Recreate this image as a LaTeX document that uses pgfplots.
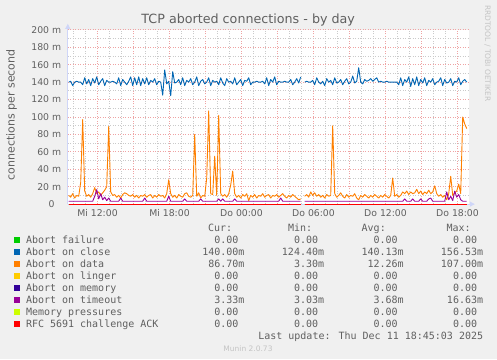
\documentclass[border=0pt]{standalone}
\usepackage{fontspec}
\setmainfont{DejaVu Sans}
\newfontfamily\monof{DejaVu Sans Mono}
\usepackage{pgfplots}
\pgfplotsset{compat=1.18}
\usetikzlibrary{arrows.meta}
\definecolor{bgc}{HTML}{F0F0F0}
\definecolor{fontc}{HTML}{606060}
\definecolor{wmc}{HTML}{C4C4C4}
\definecolor{axc}{HTML}{CFD6F8}
\definecolor{mgrid}{HTML}{EFA3A3}
\definecolor{ngrid}{HTML}{CACACA}
\definecolor{cfail}{HTML}{00CC00}
\definecolor{cclose}{HTML}{0066B3}
\definecolor{cdata}{HTML}{FF8000}
\definecolor{clinger}{HTML}{FFCC00}
\definecolor{cmem}{HTML}{330099}
\definecolor{ctime}{HTML}{990099}
\definecolor{cpress}{HTML}{CCFF00}
\definecolor{crfc}{HTML}{FF0000}
\begin{document}
\begin{tikzpicture}[x=1pt,y=1pt]
\useasboundingbox (0,0) rectangle (497,359);
\fill[bgc] (0,0) rectangle (497,359);
\begin{axis}[
  at={(56.5,177.7)}, anchor=south west, scale only axis,
  width=401pt, height=174.3pt,
  xmin=9.525, xmax=42.94, ymin=0, ymax=200,
  clip=false, unbounded coords=jump, no markers,
  axis background/.style={fill=white},
  axis x line=bottom, axis y line=left,
  axis line style={draw=axc, line width=1pt, -{Triangle[length=5pt,width=5pt]}, shorten >=-6pt},
  major tick length=0pt, minor tick length=0pt,
  xtick={12,15,...,42},
  xticklabels={Mi 12:00,,Mi 18:00,,Do 00:00,,Do 06:00,,Do 12:00,,Do 18:00},
  minor xtick={10,...,42},
  ytick={0,20,...,200},
  yticklabels={0\hspace*{6.5pt},20 m,40 m,60 m,80 m,100 m,120 m,140 m,160 m,180 m,200 m},
  minor ytick={10,30,...,190},
  grid=both,
  major grid style={draw=mgrid, line width=0.8pt, dash pattern=on 1pt off 1.5pt},
  minor grid style={draw=ngrid, line width=0.8pt, dash pattern=on 1pt off 1.5pt},
  /pgf/number format/assume math mode=true,
  xticklabel style={font=\fontsize{9.3}{11}\selectfont, text=fontc, anchor=north, inner sep=0pt, yshift=-5pt},
  yticklabel style={font=\fontsize{9.3}{11}\selectfont, text=fontc, anchor=east, inner sep=0pt, xshift=-6.5pt},
  every axis plot/.append style={line width=0.9pt, line join=round},
]
\addplot[cfail] coordinates {(9.6,0) (28.933,0) (29.1,nan) (29.267,0) (42.767,0)};
\addplot[cclose] table[row sep=\\, x expr={9.6+\coordindex/6}, y=y] {y\\
140\\141\\136\\140\\141\\140\\140\\137\\145\\138\\
143\\136\\144\\139\\146\\137\\141\\144\\136\\142\\
140\\140\\141\\140\\138\\145\\136\\143\\140\\137\\
141\\146\\136\\145\\137\\146\\136\\144\\138\\145\\
137\\142\\140\\144\\137\\141\\140\\125\\154\\138\\
141\\124.4\\152\\139\\140\\143\\137\\145\\136\\142\\
140\\144\\137\\140\\146\\136\\141\\143\\138\\140\\
145\\136\\142\\140\\141\\137\\145\\139\\136\\144\\
140\\141\\138\\145\\137\\140\\143\\136\\142\\141\\
145\\137\\140\\140\\141\\140\\140\\141\\138\\145\\
136\\143\\140\\146\\137\\141\\140\\140\\141\\140\\
140\\143\\137\\140\\144\\139\\146\\nan\\140\\141\\
140\\140\\142\\137\\145\\140\\138\\141\\136\\144\\
140\\142\\137\\145\\139\\140\\143\\137\\141\\144\\
138\\140\\147\\139\\141\\156.5\\140\\138\\143\\141\\
142\\144\\141\\143\\145\\140\\141\\140\\140\\141\\
140\\140\\140\\140\\140\\137\\145\\136\\143\\140\\
146\\135\\144\\137\\146\\136\\143\\139\\145\\136\\
142\\140\\144\\137\\140\\141\\145\\136\\143\\139\\
140\\144\\136\\141\\140\\145\\137\\141\\143\\140\\
};
\addplot[cdata] table[row sep=\\, x expr={9.6+\coordindex/6}, y=y] {y\\
10\\8\\12\\7\\10\\9\\25\\97\\15\\9\\
11\\8\\12\\19\\12\\14\\10\\13\\16\\20\\
89\\14\\10\\11\\8\\10\\7\\11\\13\\12\\
10\\9\\11\\8\\10\\7\\10\\9\\11\\8\\
10\\11\\7\\10\\8\\11\\9\\10\\7\\12\\
28\\12\\8\\10\\7\\11\\9\\8\\12\\13\\
9\\8\\10\\80\\9\\13\\7\\10\\9\\30\\
107\\12\\11\\55\\10\\102\\12\\9\\11\\8\\
12\\22\\38\\12\\8\\10\\7\\11\\9\\12\\
4\\10\\8\\11\\7\\10\\9\\12\\8\\10\\
11\\7\\10\\9\\11\\8\\10\\12\\9\\7\\
10\\8\\11\\9\\7\\5\\6\\nan\\9\\11\\
8\\14\\10\\13\\9\\11\\8\\10\\7\\11\\
9\\10\\90\\12\\8\\10\\13\\9\\7\\11\\
8\\10\\9\\12\\7\\5\\10\\8\\11\\9\\
7\\10\\8\\11\\9\\7\\10\\8\\11\\9\\
7\\10\\30\\9\\11\\8\\10\\14\\12\\15\\
11\\14\\12\\13\\17\\12\\15\\11\\14\\12\\
16\\12\\14\\21\\12\\9\\11\\8\\10\\5\\
12\\32\\10\\13\\15\\23\\12\\100\\92\\86.7\\
};
\addplot[clinger] coordinates {(9.6,0) (28.933,0) (29.1,nan) (29.267,0) (42.767,0)};
\addplot[cmem] coordinates {(9.6,0) (28.933,0) (29.1,nan) (29.267,0) (42.767,0)};
\addplot[ctime] table[x expr={9.6+\thisrow{i}/6}, y=y] {
i y
0 3.3
12 3.3
13 9
14 16.6
15 6
16 12
17 5
18 8
19 4
20 7
21 3.3
25 3.3
26 7
27 3.3
37 3.3
38 7
39 3.3
49 3.3
50 9
51 3.3
57 3.3
58 6
59 3.3
65 3.3
66 6
67 3.3
74 3.3
75 6
76 3.3
77 6
78 3.3
82 3.3
83 6
84 3.3
105 3.3
106 7
107 3.3
116 3.3
117 nan
118 3.3
167 3.3
168 6
169 3.3
171 3.3
172 6
173 3.3
175 3.3
176 6
177 3.3
179 3.3
180 6
181 7
182 3.3
188 3.3
189 14
190 5
191 9
192 4
193 15
194 8
195 11
196 5
197 3.3
199 3.33
};
\addplot[cpress] coordinates {(9.6,0) (28.933,0) (29.1,nan) (29.267,0) (42.767,0)};
\addplot[crfc] coordinates {(9.6,0) (28.933,0) (29.1,nan) (29.267,0) (42.767,0)};
\end{axis}
% title and labels
\node[anchor=base, inner sep=0pt, text=fontc, font=\fontsize{12.7}{15}\selectfont] at (248.2,335) {TCP aborted connections - by day};
\node[anchor=base, rotate=90, inner sep=0pt, text=fontc, font=\fontsize{11}{13}\selectfont] at (14.5,244.2) {connections per second};
\node[anchor=base, rotate=-90, inner sep=0pt, text=wmc, font=\fontsize{7.5}{9}\selectfont] at (485,305.7) {RRDTOOL / TOBI OETIKER};
% legend
\begin{scope}[every node/.style={inner sep=0pt, text=fontc, font=\monof\fontsize{10}{12}\selectfont}]
\node[anchor=base west] at (207.8,127.7) {Cur:};
\node[anchor=base west] at (287.8,127.7) {Min:};
\node[anchor=base west] at (361.5,127.7) {Avg:};
\node[anchor=base west] at (446.3,127.7) {Max:};
\fill[cfail]   (14,116) rectangle (20,122);
\fill[cclose]  (14,104) rectangle (20,110);
\fill[cdata]   (14,92) rectangle (20,98);
\fill[clinger] (14,80) rectangle (20,86);
\fill[cmem]    (14,68) rectangle (20,74);
\fill[ctime]   (14,56) rectangle (20,62);
\fill[cpress]  (14,44) rectangle (20,50);
\fill[crfc]    (14,32) rectangle (20,38);
\node[anchor=base west] at (25.8,115.7) {Abort failure};
\node[anchor=base west] at (25.8,103.7) {Abort on close};
\node[anchor=base west] at (25.8,91.7) {Abort on data};
\node[anchor=base west] at (25.8,79.7) {Abort on linger};
\node[anchor=base west] at (25.8,67.7) {Abort on memory};
\node[anchor=base west] at (25.8,55.7) {Abort on timeout};
\node[anchor=base west] at (25.8,43.7) {Memory pressures};
\node[anchor=base west] at (25.8,31.7) {RFC 5691 challenge ACK};
% values: Cur, Min, Avg, Max
\foreach \yy in {115.7,79.7,67.7,43.7,31.7} {
  \node[anchor=base east] at (244.6,\yy) {0.00\phantom{m}};
  \node[anchor=base east] at (324.3,\yy) {0.00\phantom{m}};
  \node[anchor=base east] at (403.9,\yy) {0.00\phantom{m}};
  \node[anchor=base east] at (483.3,\yy) {0.00\phantom{m}};
}
\node[anchor=base east] at (244.6,103.7) {140.00m};
\node[anchor=base east] at (324.3,103.7) {124.40m};
\node[anchor=base east] at (403.9,103.7) {140.13m};
\node[anchor=base east] at (483.3,103.7) {156.53m};
\node[anchor=base east] at (244.6,91.7) {86.70m};
\node[anchor=base east] at (324.3,91.7) {3.30m};
\node[anchor=base east] at (403.9,91.7) {12.26m};
\node[anchor=base east] at (483.3,91.7) {107.00m};
\node[anchor=base east] at (244.6,55.7) {3.33m};
\node[anchor=base east] at (324.3,55.7) {3.03m};
\node[anchor=base east] at (403.9,55.7) {3.68m};
\node[anchor=base east] at (483.3,55.7) {16.63m};
\node[anchor=base east] at (483.3,20) {Last update: Thu Dec 11 18:45:03 2025};
\end{scope}
\node[anchor=base, inner sep=0pt, text=wmc, font=\fontsize{7.5}{9}\selectfont] at (248,7.5) {Munin 2.0.73};
\end{tikzpicture}
\end{document}
